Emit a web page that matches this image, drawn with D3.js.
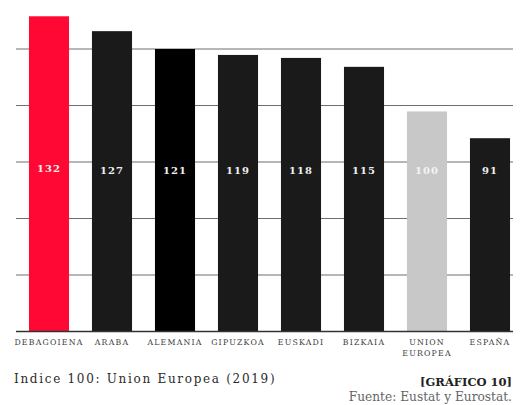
<!DOCTYPE html>
<html>
<head>
<meta charset="utf-8">
<script src="https://cdn.jsdelivr.net/npm/d3@7"></script>
<style>
  html, body { margin: 0; padding: 0; background: #fff; }
  svg { display: block; }
  text { font-family: "DejaVu Serif", serif; }
</style>
</head>
<body>
<svg id="chart" width="521" height="405"></svg>
<script>
const categories = ["DEBAGOIENA", "ARABA", "ALEMANIA", "GIPUZKOA", "EUSKADI", "BIZKAIA", "UNION\nEUROPEA", "ESPAÑA"];
const values = [132, 127, 121, 119, 118, 115, 100, 91];
const barColors = ["#ff0833", "#1a1a1a", "#000000", "#1a1a1a", "#1a1a1a", "#1a1a1a", "#c8c8c8", "#1a1a1a"];
const gridTicks = [45, 64, 83, 102, 121];
const footnote = "Indice 100: Union Europea (2019)";
const chartTag = "[GRÁFICO 10]";
const source = "Fuente: Eustat y Eurostat.";

const svg = d3.select("#chart");
const x = d3.scaleBand().domain(d3.range(categories.length))
  .range([17.5, 521.5]).paddingInner(0.364).paddingOuter(0.182);
const y0 = 26;
const y = d3.scaleLinear().domain([y0, 121]).range([331.5, 49]);

// gridlines
svg.append("g").selectAll("line").data(gridTicks).join("line")
  .attr("x1", 16).attr("x2", 513)
  .attr("y1", d => y(d)).attr("y2", d => y(d))
  .attr("stroke", "#6e6e6e").attr("stroke-width", 1.2);

// bars
svg.append("g").selectAll("rect").data(values).join("rect")
  .attr("x", (d, i) => x(i)).attr("width", x.bandwidth())
  .attr("y", d => y(d)).attr("height", d => y(y0) - y(d))
  .attr("fill", (d, i) => barColors[i]);

// baseline
svg.append("line").attr("x1", 16).attr("x2", 513)
  .attr("y1", y(y0)).attr("y2", y(y0))
  .attr("stroke", "#333").attr("stroke-width", 1.5);

// value labels
svg.append("g").selectAll("text").data(values).join("text")
  .attr("x", (d, i) => x(i) + x.bandwidth() / 2)
  .attr("y", (d, i) => i === 0 ? 171.5 : 174)
  .attr("text-anchor", "middle")
  .attr("font-size", 10).attr("font-weight", "bold")
  .attr("letter-spacing", 1)
  .attr("fill", (d, i) => i === 6 ? "#f4f4f4" : "#eeeeee")
  .text(d => d);

// category labels
const cat = svg.append("g").selectAll("text").data(categories).join("text")
  .attr("x", (d, i) => x(i) + x.bandwidth() / 2)
  .attr("y", 345)
  .attr("text-anchor", "middle")
  .attr("font-size", 7.8).attr("letter-spacing", 1.2)
  .attr("fill", "#3a3a3a");
cat.each(function(d) {
  const lines = d.split("\n");
  d3.select(this).selectAll("tspan").data(lines).join("tspan")
    .attr("x", d3.select(this).attr("x"))
    .attr("dy", (l, j) => j === 0 ? 0 : 10.5)
    .text(l => l);
});

// footer
svg.append("text").attr("x", 14).attr("y", 383)
  .attr("font-size", 12).attr("letter-spacing", 1.7)
  .attr("fill", "#2a2a2a").text(footnote);
svg.append("text").attr("x", 512).attr("y", 386)
  .attr("text-anchor", "end")
  .attr("font-size", 11.5).attr("font-weight", "bold")
  .attr("fill", "#222").text(chartTag);
svg.append("text").attr("x", 512).attr("y", 401)
  .attr("text-anchor", "end")
  .attr("font-size", 12.2)
  .attr("fill", "#666").text(source);
</script>
</body>
</html>
